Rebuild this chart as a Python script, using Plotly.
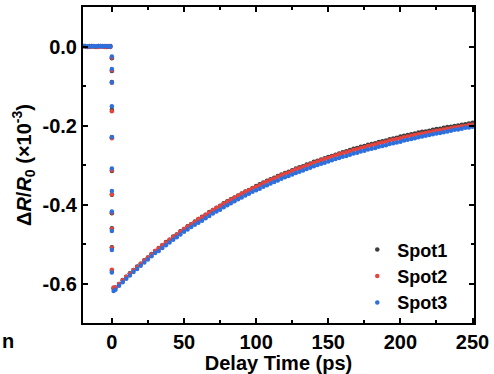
import plotly.graph_objects as go

# ---- data ----
t_pre = [-20, -18.5, -17, -15.5, -14, -12.5, -11, -9.5, -8, -6.5, -5, -3.5, -2, -1]
t_step = [0, 0, 0, 0, 0, 0, 0, 0, 0, 0, 0, 1.2]
t_decay = [2.5, 5, 7.5, 10, 12.5, 15, 17.5, 20, 22.5, 25, 27.5, 30, 32.5, 35, 37.5, 40, 42.5, 45, 47.5, 50,
           52.5, 55, 57.5, 60, 62.5, 65, 67.5, 70, 72.5, 75, 77.5, 80, 82.5, 85, 87.5, 90, 92.5, 95, 97.5, 100,
           102.5, 105, 107.5, 110, 112.5, 115, 117.5, 120, 122.5, 125, 127.5, 130, 132.5, 135, 137.5, 140, 142.5, 145, 147.5, 150,
           152.5, 155, 157.5, 160, 162.5, 165, 167.5, 170, 172.5, 175, 177.5, 180, 182.5, 185, 187.5, 190, 192.5, 195, 197.5, 200,
           202.5, 205, 207.5, 210, 212.5, 215, 217.5, 220, 222.5, 225, 227.5, 230, 232.5, 235, 237.5, 240, 242.5, 245, 247.5, 250]

spot1_pre = [0.001, 0.000, -0.001, 0.001, 0.000, 0.000, -0.001, 0.001, 0.000, 0.001, 0.000, -0.001, 0.000, 0.001]
spot2_pre = [0.000, 0.001, 0.000, -0.001, 0.001, 0.000, 0.000, -0.001, 0.001, 0.000, -0.001, 0.000, 0.001, -0.001]
spot3_pre = [0.001, 0.001, 0.000, 0.000, 0.001, 0.001, 0.000, 0.001, 0.001, 0.000, 0.001, 0.001, 0.000, 0.000]

spot1_step = [-0.030, -0.062, -0.090, -0.160, -0.230, -0.315, -0.375, -0.422, -0.460, -0.508, -0.568, -0.612]
spot2_step = [-0.028, -0.060, -0.092, -0.164, -0.232, -0.313, -0.374, -0.420, -0.462, -0.510, -0.565, -0.610]
spot3_step = [-0.025, -0.057, -0.091, -0.151, -0.229, -0.309, -0.366, -0.418, -0.467, -0.515, -0.572, -0.619]

spot1_decay = [-0.610, -0.601, -0.591, -0.583, -0.574, -0.566, -0.557, -0.550, -0.541, -0.534, -0.525, -0.518, -0.510, -0.503, -0.495, -0.489, -0.481, -0.476, -0.468, -0.462,
               -0.455, -0.450, -0.443, -0.437, -0.431, -0.426, -0.419, -0.414, -0.408, -0.403,
               -0.397, -0.392, -0.387, -0.382, -0.377, -0.372, -0.367, -0.363, -0.358, -0.353,
               -0.349, -0.344, -0.340, -0.336, -0.332, -0.328, -0.324, -0.320, -0.317, -0.313,
               -0.309, -0.306, -0.303, -0.299, -0.296, -0.292, -0.289, -0.286, -0.283, -0.280,
               -0.277, -0.274, -0.271, -0.268, -0.265, -0.262, -0.259, -0.257, -0.254, -0.252,
               -0.249, -0.247, -0.245, -0.242, -0.240, -0.238, -0.235, -0.233, -0.231, -0.228,
               -0.226, -0.224, -0.222, -0.220, -0.218, -0.216, -0.215, -0.213, -0.211, -0.209,
               -0.208, -0.206, -0.204, -0.203, -0.201, -0.200, -0.198, -0.197, -0.195, -0.193]
spot2_decay = [-0.611, -0.601, -0.592, -0.583, -0.575, -0.566, -0.558, -0.550, -0.542, -0.534, -0.526, -0.518, -0.511, -0.503, -0.496, -0.489, -0.482, -0.476, -0.469, -0.462,
               -0.456, -0.450, -0.444, -0.437, -0.432, -0.426, -0.420, -0.414, -0.409, -0.404,
               -0.398, -0.393, -0.388, -0.383, -0.378, -0.373, -0.368, -0.364, -0.359, -0.355,
               -0.351, -0.346, -0.342, -0.338, -0.334, -0.330, -0.326, -0.322, -0.319, -0.315,
               -0.311, -0.308, -0.305, -0.301, -0.298, -0.294, -0.291, -0.288, -0.285, -0.282,
               -0.279, -0.276, -0.273, -0.270, -0.268, -0.265, -0.262, -0.260, -0.257, -0.255,
               -0.252, -0.250, -0.248, -0.245, -0.243, -0.241, -0.238, -0.236, -0.234, -0.232,
               -0.230, -0.228, -0.226, -0.224, -0.222, -0.220, -0.219, -0.217, -0.215, -0.213,
               -0.212, -0.210, -0.208, -0.207, -0.205, -0.204, -0.202, -0.201, -0.199, -0.198]
spot3_decay = [-0.616, -0.606, -0.597, -0.588, -0.580, -0.571, -0.563, -0.555, -0.547, -0.539, -0.531, -0.523,
               -0.518, -0.510, -0.503, -0.496, -0.489, -0.483, -0.476, -0.469,
               -0.463, -0.457, -0.451, -0.446, -0.441, -0.435, -0.429, -0.423, -0.418, -0.413,
               -0.407, -0.402, -0.397, -0.392, -0.387, -0.382, -0.377, -0.373, -0.368, -0.364,
               -0.360, -0.355, -0.351, -0.347, -0.343, -0.339, -0.335, -0.331, -0.328, -0.324,
               -0.320, -0.317, -0.314, -0.310, -0.307, -0.303, -0.300, -0.297, -0.294, -0.291,
               -0.288, -0.285, -0.282, -0.279, -0.277, -0.274, -0.271, -0.269, -0.266, -0.264,
               -0.261, -0.259, -0.257, -0.254, -0.252, -0.250, -0.247, -0.245, -0.243, -0.241,
               -0.238, -0.236, -0.234, -0.232, -0.230, -0.228, -0.226, -0.224, -0.222, -0.220,
               -0.219, -0.217, -0.215, -0.213, -0.211, -0.210, -0.208, -0.206, -0.205, -0.203]

series_names = ["Spot1", "Spot2", "Spot3"]
series_colors = ["#3c3c3c", "#e8433d", "#2c6fdd"]

x_tickvals = [0, 50, 100, 150, 200, 250]
x_ticktext = ["0", "50", "100", "150", "200", "250"]
y_tickvals = [0.0, -0.2, -0.4, -0.6]
y_ticktext = ["0.0", "-0.2", "-0.4", "-0.6"]

FONT = "Liberation Sans, Arial, sans-serif"

fig = go.Figure()
all_y = [(spot1_pre, spot1_step, spot1_decay),
         (spot2_pre, spot2_step, spot2_decay),
         (spot3_pre, spot3_step, spot3_decay)]
x_all = t_pre + t_step + t_decay
for name, color, (yp, ys, yd) in zip(series_names, series_colors, all_y):
    fig.add_trace(go.Scatter(
        x=x_all, y=yp + ys + yd, mode="markers", name=name,
        marker=dict(color=color, size=4.5, line=dict(width=0)),
    ))

axis_common = dict(
    showline=True, linecolor="black", linewidth=2, mirror="ticks",
    ticks="inside", ticklen=5, tickwidth=2, tickcolor="black",
    showgrid=False, zeroline=False,
    tickfont=dict(family=FONT, size=20, color="black", weight="bold"),
)

fig.update_layout(
    width=494, height=374,
    margin=dict(l=83, r=18, t=5, b=51),
    paper_bgcolor="white", plot_bgcolor="white",
    font=dict(family=FONT, color="black"),
    xaxis=dict(range=[-20, 251], tickvals=x_tickvals, ticktext=x_ticktext,
               minor=dict(ticks="inside", ticklen=3, tickwidth=2, dtick=25, tick0=0, tickcolor="black"),
               title=dict(text="<b>Delay Time (ps)</b>", font=dict(family=FONT, size=20), standoff=1),
               **axis_common),
    yaxis=dict(range=[-0.7, 0.1], tickvals=y_tickvals, ticktext=y_ticktext,
               minor=dict(ticks="inside", ticklen=3, tickwidth=2, dtick=0.1, tick0=0, tickcolor="black"),
               title=dict(text="<b>Δ<i>R</i>/<i>R</i><sub>0</sub> (×10<sup>-3</sup>)</b>",
                          font=dict(family=FONT, size=20), standoff=6),
               **axis_common),
    legend=dict(x=0.947, y=0.005, xanchor="right", yanchor="bottom",
                bgcolor="rgba(0,0,0,0)", font=dict(family=FONT, size=18, color="black", weight="bold"),
                itemwidth=30, tracegroupgap=0),
    showlegend=True,
)

fig.add_annotation(text="<b>n</b>", x=-0.211, y=-0.057, xref="paper", yref="paper",
                   xanchor="left", yanchor="middle", showarrow=False,
                   font=dict(family=FONT, size=20, color="black"))

fig.write_html("out.html")
